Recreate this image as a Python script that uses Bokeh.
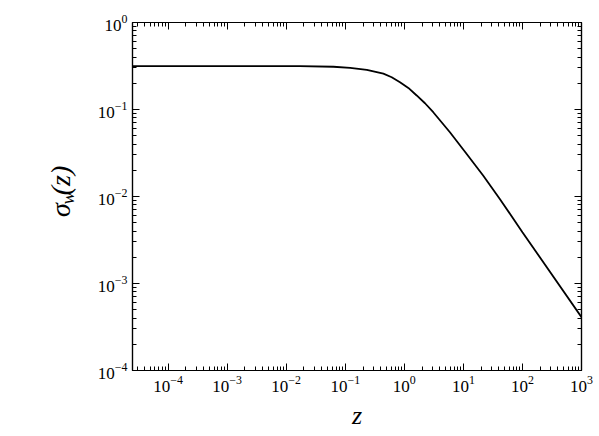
import math
from bokeh.plotting import figure
from bokeh.layouts import row
from bokeh.models import LogAxis, FixedTicker, Range1d
from bokeh.core.properties import value
from bokeh.embed import file_html
from bokeh.resources import INLINE

# ---- data ----
z_values = [2.5e-5, 1e-4, 1e-3, 0.017, 0.063, 0.121, 0.232, 0.442, 0.612, 0.845,
            1.17, 1.62, 2.24, 3.09, 5.92, 11.3, 21.6, 41.4, 100.0, 1000.0]
sigma_values = [0.315, 0.315, 0.315, 0.315, 0.310, 0.301, 0.286, 0.258, 0.235, 0.206,
                0.177, 0.145, 0.118, 0.0931, 0.0548, 0.0310, 0.0174, 0.00938, 0.00389, 0.00041]

x_tick_values = [1e-4, 1e-3, 1e-2, 1e-1, 1e0, 1e1, 1e2, 1e3]
y_tick_values = [1e-4, 1e-3, 1e-2, 1e-1, 1e0]
x_limits = (2.5e-5, 1e3)
y_limits = (1e-4, 1e0)

x_label = "z"
y_label_parts = ["σ", "w", "(z)"]

SERIF = "Liberation Serif"
LEFT_W = 88
H = 436


def minor_ticks(majors):
    out = []
    decades = [majors[0] / 10.0] + list(majors)
    for d in decades:
        for m in range(2, 10):
            out.append(m * d)
    return out


p = figure(x_axis_type="log", y_axis_type="log",
           x_range=Range1d(*x_limits), y_range=Range1d(*y_limits),
           frame_width=449, frame_height=348,
           min_border_left=132 - LEFT_W, min_border_right=18,
           min_border_top=22, min_border_bottom=66,
           output_backend="svg", toolbar_location=None,
           background_fill_color="white", border_fill_color="white")
p.grid.visible = False
p.outline_line_color = "black"
p.outline_line_width = 1.2

p.line(z_values, sigma_values, line_color="black", line_width=1.8)

bottom_axis = p.below[0]
left_axis = p.left[0]


def style_axis(ax, ticks, show_labels=True):
    ax.ticker = FixedTicker(ticks=ticks, minor_ticks=minor_ticks(ticks))
    ax.axis_line_color = "black"
    ax.axis_line_width = 1.2
    ax.major_tick_line_color = "black"
    ax.minor_tick_line_color = "black"
    ax.major_tick_in = 7
    ax.major_tick_out = 0
    ax.minor_tick_in = 4
    ax.minor_tick_out = 0
    if show_labels:
        ax.major_label_text_font = SERIF
        ax.major_label_text_font_size = "17px"
        ax.major_label_text_color = "black"
        ax.major_label_standoff = 5
    else:
        ax.major_label_overrides = {t: "" for t in ticks}
        ax.major_label_text_font_size = "1px"
        ax.major_label_text_alpha = 0
        ax.major_label_standoff = 0


style_axis(bottom_axis, x_tick_values)
style_axis(left_axis, y_tick_values)

top = LogAxis()
style_axis(top, x_tick_values, show_labels=False)
p.add_layout(top, "above")
right = LogAxis()
style_axis(right, y_tick_values, show_labels=False)
p.add_layout(right, "right")

bottom_axis.axis_label = x_label
bottom_axis.axis_label_text_font = SERIF
bottom_axis.axis_label_text_font_style = "italic"
bottom_axis.axis_label_text_font_size = "26px"
bottom_axis.axis_label_text_color = "black"
bottom_axis.axis_label_standoff = 6

# narrow strip on the left carrying the y-axis title (with its subscript)
ylab = figure(width=LEFT_W, height=H, x_range=Range1d(0, LEFT_W), y_range=Range1d(0, H),
              min_border=0, x_axis_location=None, y_axis_location=None,
              output_backend="svg", toolbar_location=None,
              background_fill_color="white", border_fill_color="white")
ylab.grid.visible = False
ylab.outline_line_color = None

common = dict(text_font=value(SERIF), text_font_style="italic", text_color="black",
              angle=math.pi / 2, text_align="center", text_baseline="alphabetic")
ylab.text(x=[60], y=[201], text=[y_label_parts[0]], text_font_size="28px", **common)
ylab.text(x=[67], y=[216], text=[y_label_parts[1]], text_font_size="19px", **common)
ylab.text(x=[60], y=[238], text=[y_label_parts[2]], text_font_size="28px", **common)

layout = row(ylab, p)
open("out.html", "w").write(file_html(layout, INLINE))
